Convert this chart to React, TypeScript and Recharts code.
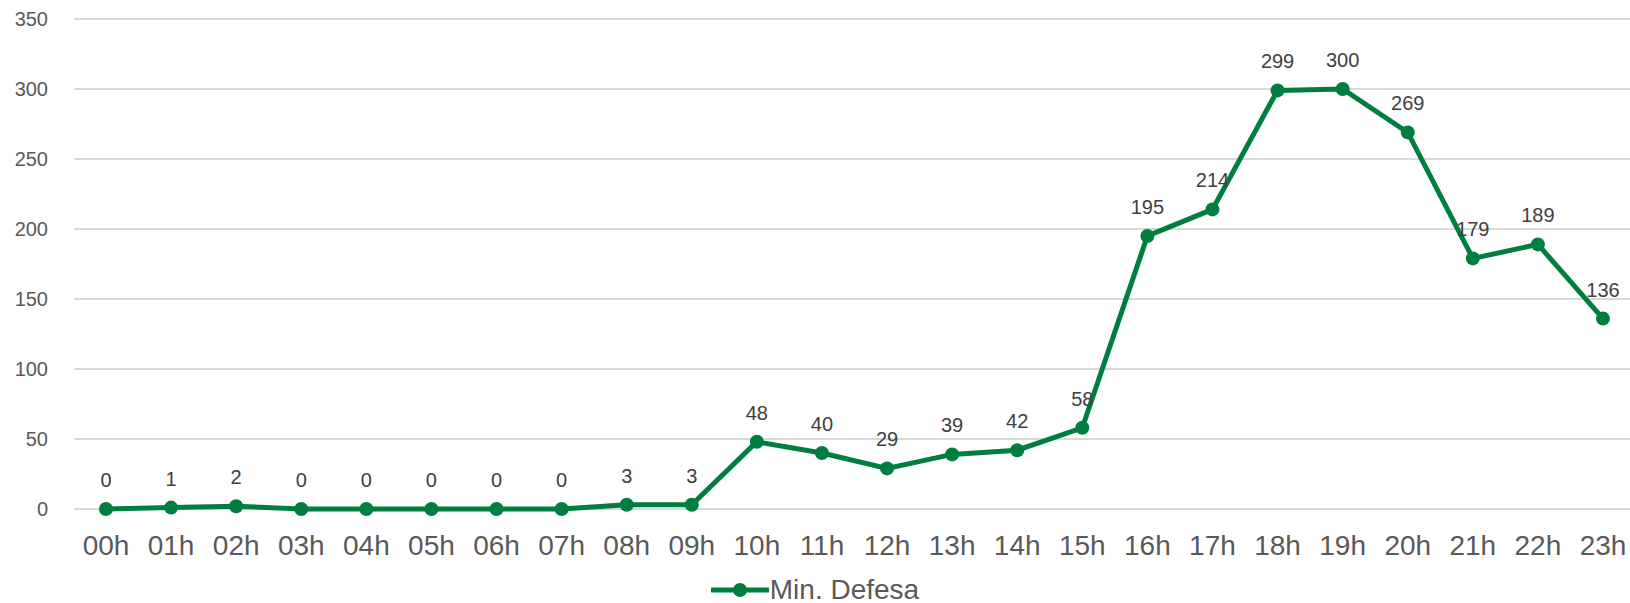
import { CartesianGrid, LabelList, Legend, Line, LineChart, XAxis, YAxis } from "recharts";

const hours = ["00h", "01h", "02h", "03h", "04h", "05h", "06h", "07h", "08h", "09h", "10h", "11h", "12h", "13h", "14h", "15h", "16h", "17h", "18h", "19h", "20h", "21h", "22h", "23h"];
const minDefesa = [0, 1, 2, 0, 0, 0, 0, 0, 3, 3, 48, 40, 29, 39, 42, 58, 195, 214, 299, 300, 269, 179, 189, 136];
const yTicks = [0, 50, 100, 150, 200, 250, 300, 350];

const data = hours.map((hour, i) => ({ hour, value: minDefesa[i] }));

const GREEN = "#007E3F";
const FONT = "'Liberation Sans', Arial, sans-serif";

const LegendContent = () => (
  <div style={{ display: "flex", justifyContent: "center", alignItems: "center", height: 26, fontFamily: FONT }}>
    <svg width={58} height={16} style={{ marginRight: 1, display: "block" }}>
      <line x1={1} y1={8} x2={57} y2={8} stroke={GREEN} strokeWidth={5} strokeLinecap="round" />
      <circle cx={29} cy={8} r={7} fill={GREEN} />
    </svg>
    <span style={{ fontSize: 28, lineHeight: "26px", color: "#595959" }}>Min. Defesa</span>
  </div>
);

export default function App() {
  return (
    <div style={{ position: "fixed", left: 0, top: 0, width: 1630, height: 603, overflow: "hidden", background: "#fff" }}>
      <LineChart width={1640} height={603} data={data} margin={{ top: 19, right: 4, bottom: 18, left: 0 }}>
        <CartesianGrid stroke="#D9D9D9" strokeWidth={2} vertical={false} />
        <XAxis
          dataKey="hour"
          axisLine={false}
          tickLine={false}
          height={50}
          tickMargin={20}
          interval={0}
          padding={{ left: 32, right: 33 }}
          tick={{ fontSize: 28, fill: "#595959", fontFamily: FONT }}
        />
        <YAxis
          domain={[0, 350]}
          ticks={yTicks}
          width={74}
          axisLine={false}
          tickLine={false}
          tickMargin={20}
          tick={{ fontSize: 20, fill: "#595959", fontFamily: FONT }}
        />
        <Legend
          verticalAlign="bottom"
          content={<LegendContent />}
          wrapperStyle={{ top: 577, bottom: "auto", left: 0, width: 1630, height: 26 }}
        />
        <Line
          type="linear"
          dataKey="value"
          name="Min. Defesa"
          stroke={GREEN}
          strokeWidth={5}
          dot={{ r: 7, fill: GREEN, stroke: GREEN, strokeWidth: 0 }}
          isAnimationActive={false}
        >
          <LabelList dataKey="value" position="top" offset={22} style={{ fontSize: 20, fill: "#404040", fontFamily: FONT }} />
        </Line>
      </LineChart>
    </div>
  );
}
